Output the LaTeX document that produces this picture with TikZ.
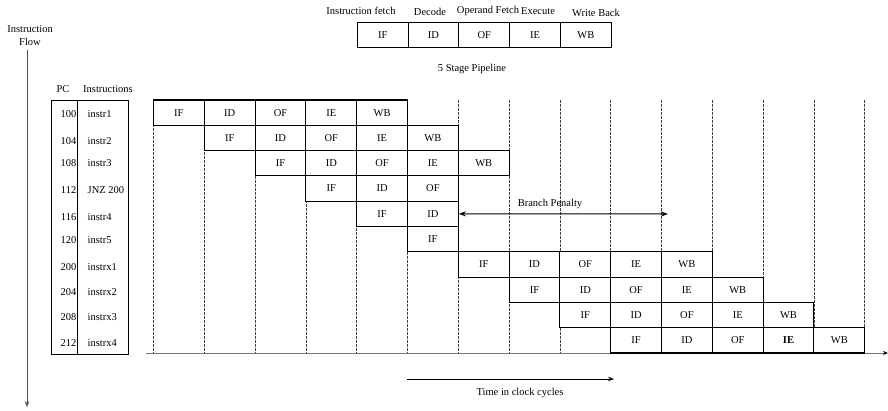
\documentclass[tikz,border=0pt]{standalone}
\usepackage{fontspec}
\setmainfont{Liberation Serif}
\usetikzlibrary{arrows.meta}
\begin{document}
\begin{tikzpicture}[x=1pt,y=-1pt,
  every node/.style={font=\fontsize{10.5}{13}\selectfont, inner sep=0pt},
  cell/.style={draw, line width=1.1pt, fill=white, minimum width=50.8pt, minimum height=25.3pt, anchor=center},
  gridline/.style={dash pattern=on 2.5pt off 1.5pt, line width=0.55pt, black!75},
  arr/.style={-{Stealth[length=6pt,width=4.5pt]}, line width=0.8pt},
  dblarr/.style={{Stealth[length=7pt,width=5pt]}-{Stealth[length=7pt,width=5pt]}, line width=1pt},
]
\useasboundingbox (0,0) rectangle (888,410);

% Instruction flow
\node[align=center] (flowlbl) at (30,35.5) {Instruction\\Flow};
\coordinate (flowtop) at (27,50);
\coordinate (flowend) at (27,407);
\draw[arr, black!70, line width=0.9pt] (flowtop) -- (flowend);

% Legend
\foreach \l [count=\i from 0] in {IF,ID,OF,IE,WB}
  \node[cell] (L\i) at ({357.3+50.8*(\i+0.5)},35) {\l};
\node (lab0) at (361,10.5) {Instruction fetch};
\node (lab1) at (430,11.5) {Decode};
\node (lab2) at (488,11) {Operand Fetch};
\node (lab3) at (538,11) {Execute};
\node (lab4) at (596,13) {Write Back};
\node (legtitle) at (472,69) {5 Stage Pipeline};

% PC table
\node (pchead) at (63,89) {PC};
\node (inhead) at (108,89) {Instructions};
\draw[line width=0.8pt] (51.7,100) rectangle (128.3,354);
\draw[line width=0.8pt] (77.7,100) -- (77.7,354);
\foreach \pc/\ins/\yy [count=\j] in {100/instr1/114.5, 104/instr2/141.5, 108/instr3/163.3, 112/JNZ 200/190.3, 116/instr4/216.7, 120/instr5/240, 200/instrx1/266.7, 204/instrx2/292, 208/instrx3/317, 212/instrx4/343}{
  \node[anchor=east] (pc\j) at (76.5,\yy) {\pc};
  \node[anchor=west] (in\j) at (87.5,\yy) {\ins};
}

% dashed grid lines
\foreach \k in {0,...,14}
  \draw[gridline] ({153.5+50.8*\k},100) -- ({153.5+50.8*\k},352.7);

% time axis
\coordinate (axL) at (146,353);
\coordinate (axR) at (888,353);
\draw[-{Stealth[length=5pt,width=4pt,black]}, black!55, line width=1pt] (axL) -- (axR);

% pipeline cells
\foreach \r/\s/\labs in {1/0/{IF,ID,OF,IE,WB}, 2/1/{IF,ID,OF,IE,WB}, 3/2/{IF,ID,OF,IE,WB}, 4/3/{IF,ID,OF}, 5/4/{IF,ID}, 6/5/{IF}, 7/6/{IF,ID,OF,IE,WB}, 8/7/{IF,ID,OF,IE,WB}, 9/8/{IF,ID,OF,IE,WB}, 10/9/{IF,ID,OF,\textbf{IE},WB}}{
  \foreach \l [count=\i from 0] in \labs {
    \pgfmathtruncatemacro\cc{\s+\i}
    \node[cell] (c-\r-\cc) at ({153.5+50.8*(\s+\i+0.5)},{100+25.3*(\r-0.5)}) {\l};
  }
}

% branch penalty
\coordinate (bpR) at (668,214);
\draw[dblarr] (c-5-5.east) -- (bpR);
\node (bplbl) at (550,204) {Branch Penalty};

% time arrow
\coordinate (tL) at (407,379);
\coordinate (tR) at (614,379);
\draw[arr] (tL) -- (tR);
\node (tlbl) at (520,393) {Time in clock cycles};
\end{tikzpicture}
\end{document}
